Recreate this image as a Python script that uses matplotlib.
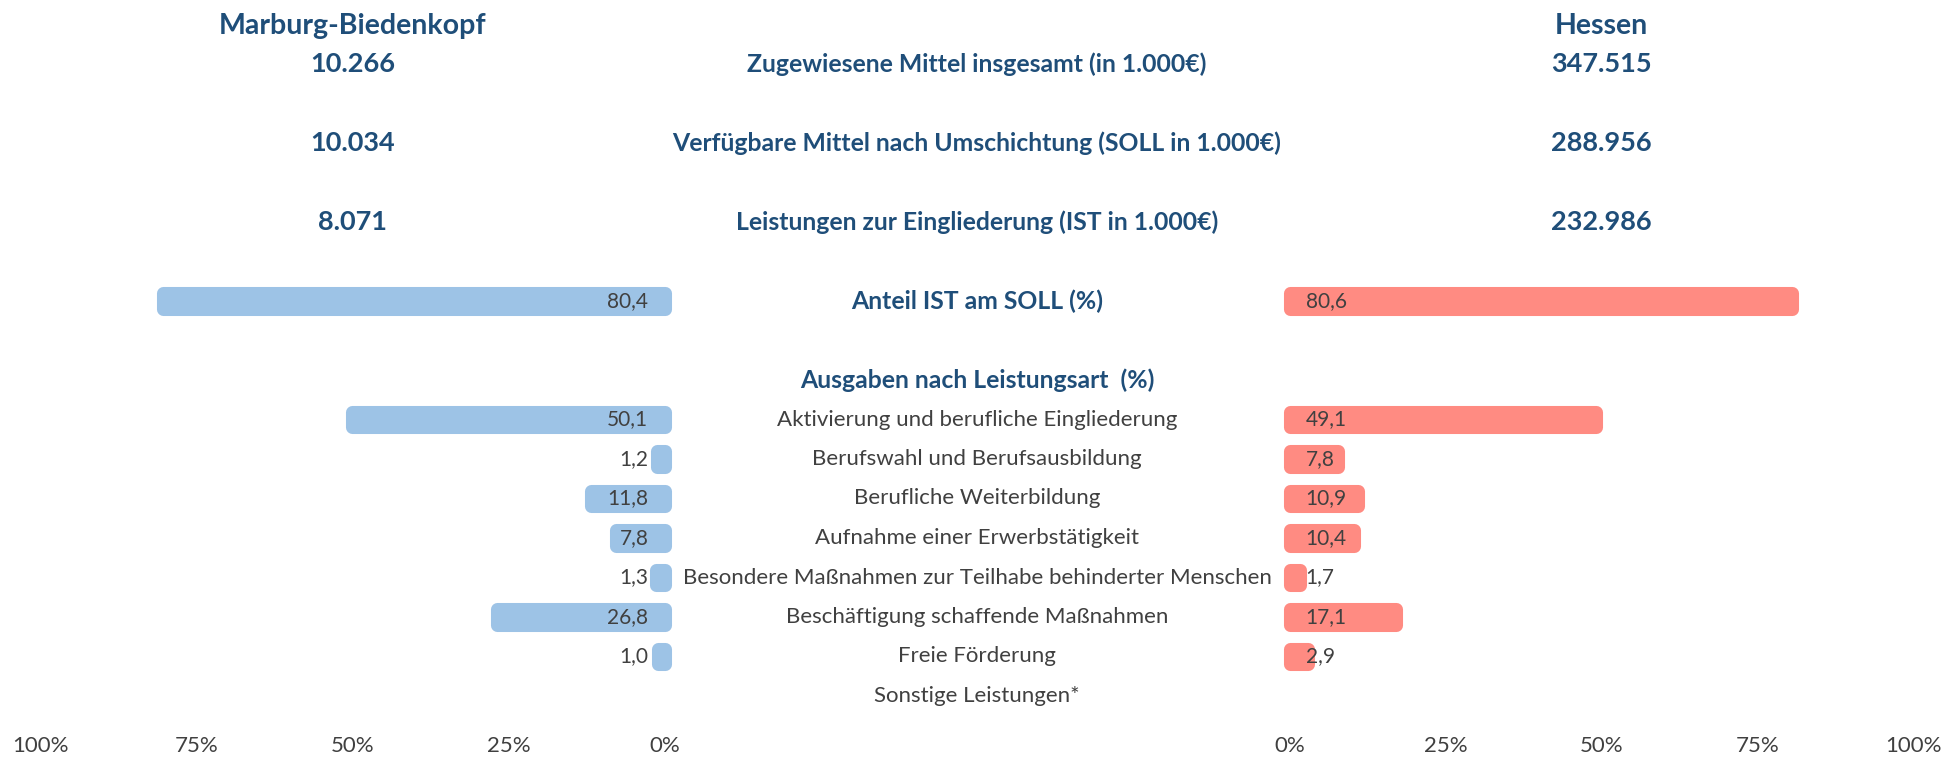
"""
Jobcenter budget comparison: Marburg-Biedenkopf vs. Hessen, mirrored bar layout.
"""

import numpy as np
import matplotlib.pyplot as plt

plt.rcParams["font.family"] = ["Lato", "DejaVu Sans"]

# --------------------------------------------------
# DATA
# --------------------------------------------------
region_left = "Marburg-Biedenkopf"
region_right = "Hessen"

summary_labels = [
    "Zugewiesene Mittel insgesamt (in 1.000€)",
    "Verfügbare Mittel nach Umschichtung (SOLL in 1.000€)",
    "Leistungen zur Eingliederung (IST in 1.000€)",
]
summary_left = [10266, 10034, 8071]
summary_right = [347515, 288956, 232986]

share_label = "Anteil IST am SOLL (%)"
share_left = 80.4
share_right = 80.6

section_title = "Ausgaben nach Leistungsart  (%)"
categories = [
    "Aktivierung und berufliche Eingliederung",
    "Berufswahl und Berufsausbildung",
    "Berufliche Weiterbildung",
    "Aufnahme einer Erwerbstätigkeit",
    "Besondere Maßnahmen zur Teilhabe behinderter Menschen",
    "Beschäftigung schaffende Maßnahmen",
    "Freie Förderung",
    "Sonstige Leistungen*",
]
cat_left = [50.1, 1.2, 11.8, 7.8, 1.3, 26.8, 1.0, np.nan]
cat_right = [49.1, 7.8, 10.9, 10.4, 1.7, 17.1, 2.9, np.nan]

tick_values = [0, 25, 50, 75, 100]

# --------------------------------------------------
# STYLE / LAYOUT
# --------------------------------------------------
BLUE = "#9DC3E6"
SALMON = "#FF8B82"
NAVY = "#1F4E79"
GREY = "#404040"

W, H = 1942, 758
ROW0, STEP = 24.5, 39.5      # pixel centre of row 0 and row spacing
AX_BOTTOM_PX = 735

# row indices for each block
row_header = 0.05
rows_summary = [1, 3, 5]
row_share = 7
row_section = 9
rows_cat = np.arange(10, 10 + len(categories))

FS_REGION = 20.5
FS_NUMBER = 19.5
FS_CENTER_BOLD = 17.8
FS_CATEGORY = 16
FS_VALUE = 15
FS_TICK = 16


def fmt_thousands(v):
    return f"{v:,}".replace(",", ".")


def fmt_pct(v):
    return f"{v:.1f}".replace(".", ",")


fig = plt.figure(figsize=(W / 100, H / 100), dpi=100)

ylim = ((AX_BOTTOM_PX - ROW0) / STEP, -ROW0 / STEP)
bottom = (H - AX_BOTTOM_PX) / H
height = AX_BOTTOM_PX / H

ax_l = fig.add_axes([40.5 / W, bottom, 624 / W, height])
ax_r = fig.add_axes([1289.5 / W, bottom, 624 / W, height])
ax_m = fig.add_axes([664.5 / W, bottom, 625 / W, height])

for ax in (ax_l, ax_r, ax_m):
    ax.set_ylim(*ylim)
    ax.set_yticks([])
    for s in ax.spines.values():
        s.set_visible(False)
    ax.patch.set_visible(False)

ax_l.set_xlim(100, 0)
ax_r.set_xlim(0, 100)
ax_m.set_xlim(0, 1)
ax_m.set_xticks([])

bar_kw = dict(height=0.405, linewidth=9.4, joinstyle="round", clip_on=False)

# --------------------------------------------------
# LEFT SIDE (Marburg-Biedenkopf)
# --------------------------------------------------
ax_l.barh([row_share], [share_left], color=BLUE, edgecolor=BLUE, **bar_kw)
mask = ~np.isnan(cat_left)
ax_l.barh(rows_cat[mask], np.array(cat_left)[mask], color=BLUE, edgecolor=BLUE, **bar_kw)

ax_l.text(50, row_header, region_left, ha="center", va="center",
          fontsize=FS_REGION, fontweight="bold", color=NAVY)
for r, v in zip(rows_summary, summary_left):
    ax_l.text(50, r, fmt_thousands(v), ha="center", va="center",
              fontsize=FS_NUMBER, fontweight="bold", color=NAVY)
ax_l.text(2.6, row_share, fmt_pct(share_left), ha="right", va="center",
          fontsize=FS_VALUE, color=GREY)
for r, v in zip(rows_cat, cat_left):
    if not np.isnan(v):
        ax_l.text(2.6, r, fmt_pct(v), ha="right", va="center", fontsize=FS_VALUE, color=GREY)

# --------------------------------------------------
# RIGHT SIDE (Hessen)
# --------------------------------------------------
ax_r.barh([row_share], [share_right], color=SALMON, edgecolor=SALMON, **bar_kw)
mask = ~np.isnan(cat_right)
ax_r.barh(rows_cat[mask], np.array(cat_right)[mask], color=SALMON, edgecolor=SALMON, **bar_kw)

ax_r.text(50, row_header, region_right, ha="center", va="center",
          fontsize=FS_REGION, fontweight="bold", color=NAVY)
for r, v in zip(rows_summary, summary_right):
    ax_r.text(50, r, fmt_thousands(v), ha="center", va="center",
              fontsize=FS_NUMBER, fontweight="bold", color=NAVY)
ax_r.text(2.6, row_share, fmt_pct(share_right), ha="left", va="center",
          fontsize=FS_VALUE, color=GREY)
for r, v in zip(rows_cat, cat_right):
    if not np.isnan(v):
        ax_r.text(2.6, r, fmt_pct(v), ha="left", va="center", fontsize=FS_VALUE, color=GREY)

# --------------------------------------------------
# CENTRE LABELS
# --------------------------------------------------
for r, lab in zip(rows_summary, summary_labels):
    ax_m.text(0.5, r, lab, ha="center", va="center",
              fontsize=FS_CENTER_BOLD, fontweight="bold", color=NAVY)
ax_m.text(0.5, row_share, share_label, ha="center", va="center",
          fontsize=FS_CENTER_BOLD, fontweight="bold", color=NAVY)
ax_m.text(0.5, row_section, section_title, ha="center", va="center",
          fontsize=FS_CENTER_BOLD, fontweight="bold", color=NAVY)
for r, lab in zip(rows_cat, categories):
    ax_m.text(0.5, r, lab, ha="center", va="center", fontsize=FS_CATEGORY, color=GREY)

# --------------------------------------------------
# PERCENT AXES
# --------------------------------------------------
for ax in (ax_l, ax_r):
    ax.set_xticks(tick_values)
    ax.set_xticklabels([f"{t}%" for t in tick_values])
    ax.tick_params(axis="x", length=0, pad=1, labelsize=FS_TICK, labelcolor=GREY)

plt.savefig("out.png", dpi=100)
